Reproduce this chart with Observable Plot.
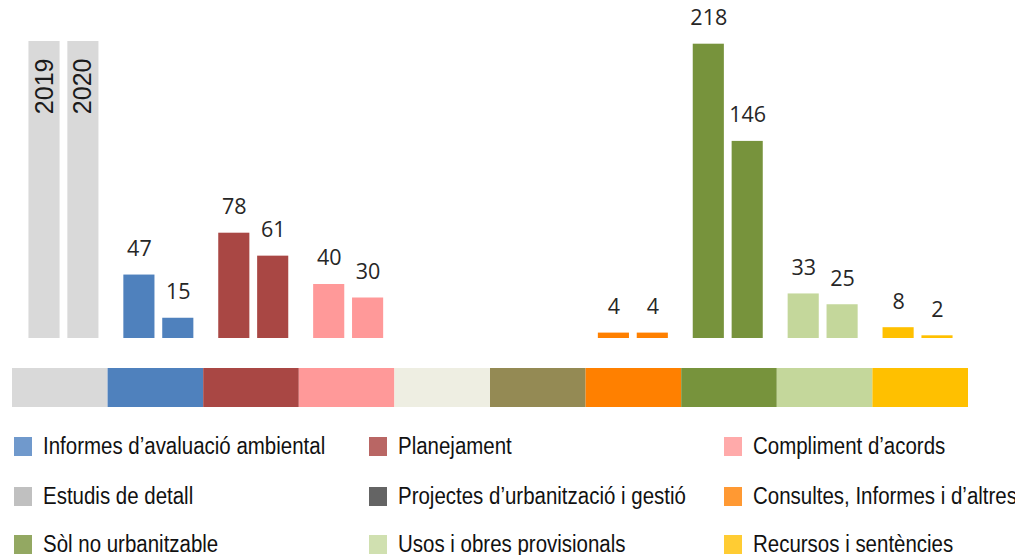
<!DOCTYPE html>
<html>
<head>
<meta charset="utf-8">
<script src="https://cdn.jsdelivr.net/npm/d3@7"></script>
<script src="https://cdn.jsdelivr.net/npm/@observablehq/plot@0.6"></script>
<style>
  html, body { margin: 0; padding: 0; background: #fff; width: 1015px; height: 555px; overflow: hidden; }
  #wrap { position: relative; width: 1015px; height: 555px; }
  #bars { position: absolute; left: 0; top: 0; width: 1015px; height: 345px; }
  #strip { position: absolute; left: 0; top: 368px; width: 1015px; height: 39px; }
  #bars svg, #strip svg { display: block; max-width: none; }
  .lg { position: absolute; display: flex; align-items: center; height: 19px; white-space: nowrap; }
  .sw { width: 18px; height: 19px; flex: none; }
  .lt { font-family: "Liberation Sans", Arial, sans-serif; font-size: 23px; color: #111;
        display: inline-block; transform: scaleX(0.89); transform-origin: left center; margin-left: 11px; }
</style>
</head>
<body>
<div id="wrap">
  <div id="bars"></div>
  <div id="strip"></div>
  <div id="legend"></div>
</div>
<script>
// ---- data ----
const categories = ["Anys", "Informes d’avaluació ambiental", "Planejament", "Compliment d’acords",
  "Estudis de detall", "Projectes d’urbanització i gestió", "Consultes, Informes i d’altres",
  "Sòl no urbanitzable", "Usos i obres provisionals", "Recursos i sentències"];
const years = ["2019", "2020"];
const values2019 = [null, 47, 78, 40, null, null, 4, 218, 33, 8];
const values2020 = [null, 15, 61, 30, null, null, 4, 146, 25, 2];
const barColors = ["#d9d9d9", "#4f81bd", "#a94744", "#ff9999", "#eeeee2", "#948a54", "#ff8000", "#77933c", "#c4d79b", "#ffc000"];
const stripColors = ["#d9d9d9", "#4f81bd", "#a94744", "#ff9999", "#eeeee2", "#948a54", "#ff8000", "#77933c", "#c4d79b", "#ffc000"];
const legendLabels = [
  ["Informes d’avaluació ambiental", "Planejament", "Compliment d’acords"],
  ["Estudis de detall", "Projectes d’urbanització i gestió", "Consultes, Informes i d’altres"],
  ["Sòl no urbanitzable", "Usos i obres provisionals", "Recursos i sentències"]
];
const legendColors = [
  ["#7099cc", "#b96664", "#ffaaaa"],
  ["#c0c0c0", "#646464", "#ff9933"],
  ["#93a862", "#d0e0b0", "#ffcc33"]
];
const yMax = 220;

// ---- tables ----
const rows = [];
categories.forEach((c, i) => {
  [values2019[i], values2020[i]].forEach((v, j) => {
    if (v != null) rows.push({cat: c, year: years[j], value: v, color: barColors[i]});
  });
});
const yearCols = years.map(y => ({cat: categories[0], year: y}));
const stripRows = categories.map((c, i) => ({cat: c, color: stripColors[i]}));

// ---- bars ----
const barsPlot = Plot.plot({
  width: 1015,
  height: 345,
  marginLeft: 16,
  marginRight: 50,
  marginTop: 41,
  marginBottom: 7,
  style: {fontFamily: "'Open Sans', sans-serif", background: "transparent", maxWidth: "none"},
  fx: {domain: categories, padding: 0, round: false, axis: null},
  x: {domain: years, paddingInner: 0.2, paddingOuter: 0.32, round: false, axis: null},
  y: {domain: [0, yMax], axis: null},
  marks: [
    Plot.barY(yearCols, {fx: "cat", x: "year", y: () => yMax, fill: "#d9d9d9"}),
    Plot.text(yearCols, {fx: "cat", x: "year", y: () => yMax, text: "year", rotate: -90,
      textAnchor: "end", dy: 17, fontSize: 25, fill: "#1a1a1a",
      fontFamily: "'Liberation Sans', Arial, sans-serif"}),
    Plot.barY(rows, {fx: "cat", x: "year", y: "value", fill: "color"}),
    Plot.text(rows, {fx: "cat", x: "year", y: "value", text: d => String(d.value), dy: -26,
      fontSize: 21.5, fill: "#262626"})
  ]
});
document.getElementById("bars").appendChild(barsPlot);

// ---- colour strip ----
const stripPlot = Plot.plot({
  width: 1015,
  height: 39,
  marginLeft: 12,
  marginRight: 47,
  marginTop: 0,
  marginBottom: 0,
  style: {background: "transparent", maxWidth: "none"},
  x: {domain: categories, padding: 0, round: false, axis: null},
  marks: [
    Plot.cell(stripRows, {x: "cat", fill: "color", inset: 0})
  ]
});
document.getElementById("strip").appendChild(stripPlot);

// ---- legend ----
const colLeft = [14, 369, 724];
const rowTop = [437, 487, 535];
const legend = document.getElementById("legend");
legendLabels.forEach((r, ri) => r.forEach((lab, ci) => {
  const d = document.createElement("div");
  d.className = "lg";
  d.style.left = colLeft[ci] + "px";
  d.style.top = rowTop[ri] + "px";
  const s = document.createElement("span");
  s.className = "sw";
  s.style.background = legendColors[ri][ci];
  const t = document.createElement("span");
  t.className = "lt";
  t.textContent = lab;
  d.appendChild(s); d.appendChild(t);
  legend.appendChild(d);
}));
</script>
</body>
</html>
